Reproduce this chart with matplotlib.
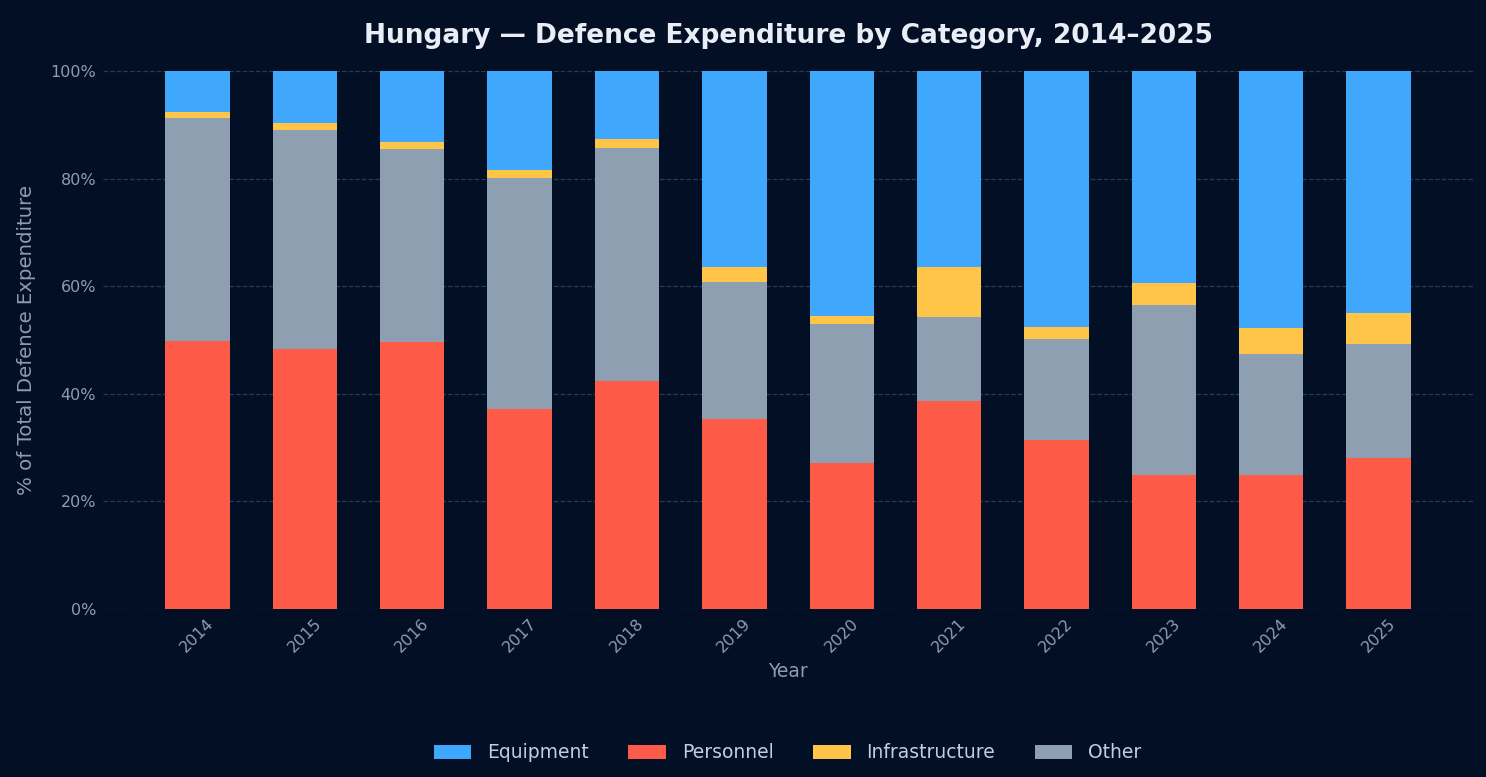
import matplotlib
matplotlib.use('Agg')
import matplotlib.pyplot as plt
from matplotlib.ticker import FuncFormatter
import numpy as np

plt.rcParams['font.family'] = ['DejaVu Sans']

years = ['2014', '2015', '2016', '2017', '2018', '2019',
         '2020', '2021', '2022', '2023', '2024', '2025']
# shares in % of total, stacked bottom-up: personnel, other, infrastructure, equipment
personnel = [49.8, 48.3, 49.6, 37.2, 42.4, 35.3, 27.1, 38.7, 31.4, 24.9, 24.9, 28.1]
other = [41.5, 40.7, 35.9, 42.9, 43.3, 25.5, 25.9, 15.6, 18.8, 31.6, 22.5, 21.2]
infrastructure = [1.1, 1.3, 1.3, 1.5, 1.7, 2.8, 1.5, 9.3, 2.2, 4.1, 4.8, 5.7]
equipment = [7.6, 9.7, 13.2, 18.4, 12.6, 36.4, 45.5, 36.4, 47.6, 39.4, 47.8, 45.0]

bg = '#020f24'
txt = '#8d9cb4'

fig = plt.figure(figsize=(14.86, 7.77), dpi=100, facecolor=bg)
ax = fig.add_axes([0.0693, 0.2162, 0.9220, 0.6924])
ax.set_facecolor(bg)

x = np.arange(len(years))
w = 0.6
b1 = np.array(personnel)
b2 = b1 + np.array(other)
b3 = b2 + np.array(infrastructure)

ax.bar(x, personnel, w, color='#fd5a47', label='Personnel', zorder=3)
ax.bar(x, other, w, bottom=b1, color='#8e9fb2', label='Other', zorder=3)
ax.bar(x, infrastructure, w, bottom=b2, color='#fec548', label='Infrastructure', zorder=3)
ax.bar(x, equipment, w, bottom=b3, color='#3fa8fc', label='Equipment', zorder=3)

ax.set_ylim(0, 100)
ax.set_yticks([0, 20, 40, 60, 80, 100])
ax.yaxis.set_major_formatter(FuncFormatter(lambda v, p: '%d%%' % v))
ax.set_xticks(x)
ax.set_xticklabels(years, rotation=45)
ax.grid(axis='y', linestyle='--', color='#2c3b55', linewidth=0.9, zorder=0)
for s in ax.spines.values():
    s.set_visible(False)
ax.tick_params(colors=txt, labelsize=11.5, length=0, pad=5)

ax.set_xlabel('Year', color=txt, fontsize=13.5, labelpad=5)
ax.set_ylabel('% of Total Defence Expenditure', color=txt, fontsize=14.2, labelpad=10)
ax.set_title('Hungary \u2014 Defence Expenditure by Category, 2014\u20132025',
             color='#e9eef6', fontsize=19, fontweight='bold', pad=20)

h, l = ax.get_legend_handles_labels()
order = [3, 0, 2, 1]
leg = fig.legend([h[i] for i in order], [l[i] for i in order], loc='center',
                 bbox_to_anchor=(0.53, 0.031), ncol=4, frameon=False,
                 fontsize=13.5, handlelength=2.0, handleheight=0.8,
                 handletextpad=0.85, columnspacing=2.1)
for t in leg.get_texts():
    t.set_color('#c3cddc')

fig.savefig('out.png', facecolor=bg)
